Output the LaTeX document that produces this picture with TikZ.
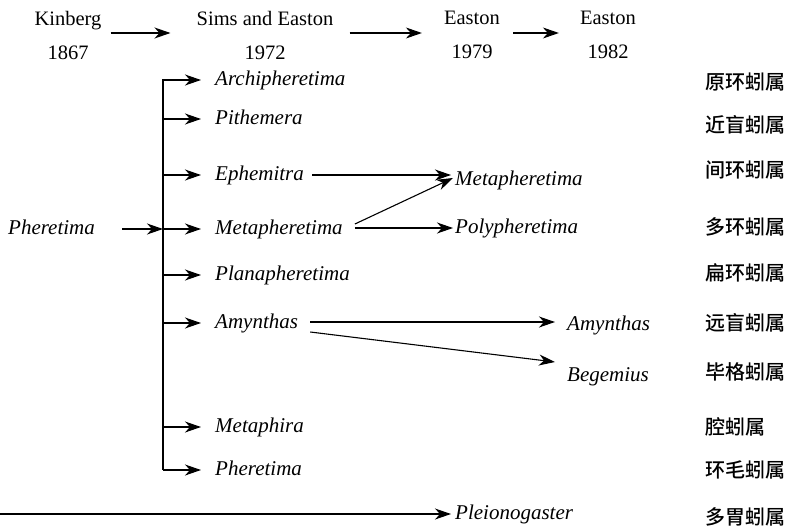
\documentclass[tikz,border=0pt]{standalone}
\usepackage{fontspec}
\setmainfont{Liberation Serif}
\newfontfamily\cjk[UprightFont={* Medium}]{Noto Sans CJK SC}
\usetikzlibrary{arrows.meta,positioning}

\tikzset{
	head/.style={inner sep=0pt,align=center,font=\fontsize{20.5}{34}\selectfont},
	taxon/.style={anchor=west,inner sep=0pt,text height=14pt,text depth=4pt,font=\fontsize{21}{24}\selectfont\itshape},
	genus/.style={anchor=west,inner sep=0pt,font=\fontsize{20}{24}\selectfont\cjk},
	link/.style={line width=1.1pt,-{Stealth[length=16pt,width=11pt,inset=5pt]}}
}

\begin{document}
\begin{tikzpicture}[x=1pt,y=-1pt]
				\useasboundingbox (0,0) rectangle (792,527);
				\node[head] (kin) at (68,35) {Kinberg\\1867};
				\node[head] (sims) at (265,35) {Sims and Easton\\1972};
				\node[head] (ea79) at (472,35) {Easton\\1979};
				\node[head] (ea82) at (608,35) {Easton\\1982};
				\draw[link] ([xshift=9pt,yshift=2pt]kin.east) -- ([xshift=-26pt,yshift=2pt]sims.west);
				\draw[link] ([xshift=16pt,yshift=2pt]sims.east) -- ([xshift=-22pt,yshift=2pt]ea79.west);
				\draw[link] ([xshift=13pt,yshift=2pt]ea79.east) -- ([xshift=-21pt,yshift=2pt]ea82.west);

				\node[taxon] (pher) at (8,229) {Pheretima};
				\coordinate (top) at (163,79);
				\coordinate (bot) at (163,470);
				\draw[line width=1.1pt] (top) -- (bot);
				\draw[link] ([xshift=27pt]pher.east) -- (pher.east -| top);

				\node[taxon] (archi) at (215,80) {Archipheretima};
				\node[taxon] (pith) at (215,119) {Pithemera};
				\node[taxon] (ephe) at (215,175) {Ephemitra};
				\node[taxon] (meta) at (215,229) {Metapheretima};
				\node[taxon] (plana) at (215,275) {Planapheretima};
				\node[taxon] (amyn) at (215,323) {Amynthas};
				\node[taxon] (metaph) at (215,427) {Metaphira};
				\node[taxon] (phere) at (215,470) {Pheretima};
				\draw[link] (archi.west -| top) -- ([xshift=-14pt]archi.west);
				\draw[link] (pith.west -| top) -- ([xshift=-14pt]pith.west);
				\draw[link] (ephe.west -| top) -- ([xshift=-14pt]ephe.west);
				\draw[link] (meta.west -| top) -- ([xshift=-14pt]meta.west);
				\draw[link] (plana.west -| top) -- ([xshift=-14pt]plana.west);
				\draw[link] (amyn.west -| top) -- ([xshift=-14pt]amyn.west);
				\draw[link] (metaph.west -| top) -- ([xshift=-14pt]metaph.west);
				\draw[link] (phere.west -| top) -- ([xshift=-14pt]phere.west);

				\node[taxon] (metaB) at (455,180) {Metapheretima};
				\node[taxon] (poly) at (455,228) {Polypheretima};
				\node[taxon] (amynB) at (567,325) {Amynthas};
				\node[taxon] (bege) at (567,376) {Begemius};
				\draw[link] (ephe.east -| 312,0) -- ([xshift=-4pt,yshift=5pt]metaB.west);
				\draw[link] ([xshift=12pt,yshift=5pt]meta.east) -- ([xshift=-2pt,yshift=2pt]metaB.west);
				\draw[link] ([xshift=12pt,yshift=1pt]meta.east) -- ([xshift=-2pt,yshift=0pt]poly.west);
				\draw[link] ([xshift=12pt,yshift=1pt]amyn.east) -- ([xshift=-12pt,yshift=3pt]amynB.west);
				\draw[link] ([xshift=12pt,yshift=-9pt]amyn.east) -- ([xshift=-12pt,yshift=14pt]bege.west);

				\coordinate (start) at (0,514);
				\node[taxon] (pleio) at (455,514) {Pleionogaster};
				\draw[link] (start) -- ([xshift=-4pt]pleio.west);

				\node[genus] (cn1) at (705,82) {原环蚓属};
				\node[genus] (cn2) at (705,125) {近盲蚓属};
				\node[genus] (cn3) at (705,170) {间环蚓属};
				\node[genus] (cn4) at (705,227) {多环蚓属};
				\node[genus] (cn5) at (705,273) {扁环蚓属};
				\node[genus] (cn6) at (705,323) {远盲蚓属};
				\node[genus] (cn7) at (705,372) {毕格蚓属};
				\node[genus] (cn8) at (705,427) {腔蚓属};
				\node[genus] (cn9) at (705,470) {环毛蚓属};
				\node[genus] (cn10) at (705,517) {多胃蚓属};
			\end{tikzpicture}
\end{document}
